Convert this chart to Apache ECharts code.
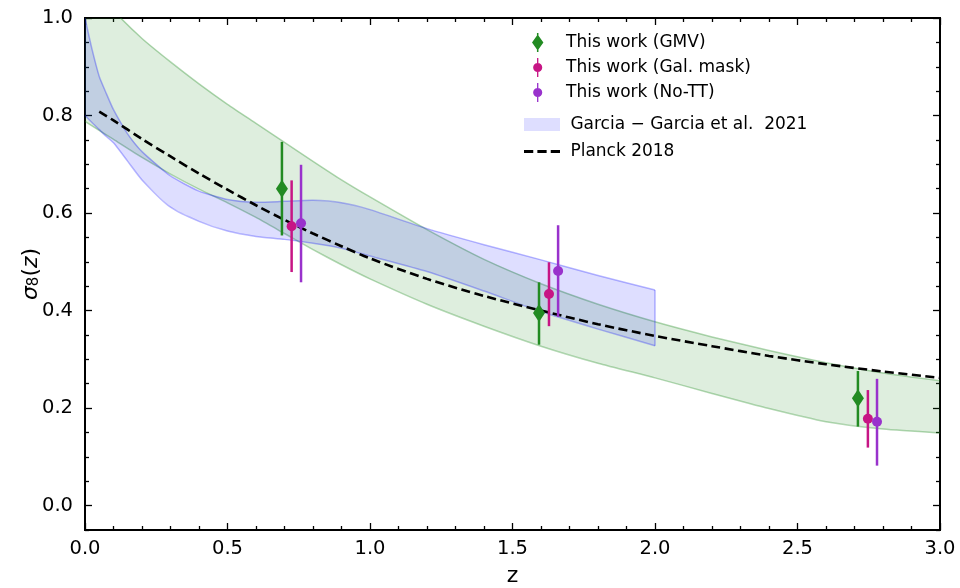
<!DOCTYPE html>
<html>
<head>
<meta charset="utf-8">
<script src="https://cdn.jsdelivr.net/npm/echarts@6/dist/echarts.min.js"></script>
<style>
  html, body { margin: 0; padding: 0; background: #fff; }
  #chart { width: 960px; height: 588px; }
</style>
</head>
<body>
<div id="chart"></div>
<script>
// tick labels
var xTicks = [0, 0.5, 1.0, 1.5, 2.0, 2.5, 3.0];
var xMinorTicks = [0.1, 0.2, 0.3, 0.4, 0.6, 0.7, 0.8, 0.9, 1.1, 1.2, 1.3, 1.4, 1.6, 1.7, 1.8, 1.9, 2.1, 2.2, 2.3, 2.4, 2.6, 2.7, 2.8, 2.9];
var yTicks = [0, 0.2, 0.4, 0.6, 0.8, 1.0];
var yMinorTicks = [-0.05, 0.05, 0.1, 0.15, 0.25, 0.3, 0.35, 0.45, 0.5, 0.55, 0.65, 0.7, 0.75, 0.85, 0.9, 0.95];

// green band (theory range)
var zBand = [0, 0.1, 0.2, 0.3, 0.4, 0.5, 0.6, 0.7, 0.8, 0.9, 1.0, 1.2, 1.4, 1.6, 1.8, 2.0, 2.2, 2.4, 2.6, 2.8, 3.0];
var bandUpper = [1.08, 1.015, 0.958, 0.91, 0.865, 0.823, 0.784, 0.745, 0.706, 0.668, 0.633, 0.566, 0.505, 0.455, 0.413, 0.377, 0.346, 0.318, 0.293, 0.272, 0.256];
var bandLower = [0.788, 0.751, 0.714, 0.68, 0.649, 0.621, 0.591, 0.558, 0.525, 0.494, 0.465, 0.413, 0.368, 0.327, 0.292, 0.262, 0.23, 0.199, 0.172, 0.157, 0.149];

// Garcia-Garcia et al. 2021
var zGarcia = [0, 0.025, 0.05, 0.075, 0.1, 0.15, 0.2, 0.3, 0.4, 0.5, 0.6, 0.7, 0.8, 0.9, 1.0, 1.2, 1.4, 1.6, 1.8, 2.0];
var garciaUpper = [1.0, 0.935, 0.88, 0.845, 0.812, 0.762, 0.726, 0.676, 0.645, 0.628, 0.622, 0.624, 0.626, 0.621, 0.607, 0.568, 0.535, 0.504, 0.472, 0.442];
var garciaLower = [0.8, 0.785, 0.771, 0.757, 0.744, 0.706, 0.668, 0.612, 0.583, 0.563, 0.552, 0.546, 0.538, 0.528, 0.512, 0.48, 0.44, 0.398, 0.362, 0.328];

// Planck 2018
var zPlanck = [0.05, 0.1, 0.2, 0.3, 0.4, 0.5, 0.6, 0.7, 0.8, 0.9, 1.0, 1.2, 1.4, 1.6, 1.8, 2.0, 2.2, 2.4, 2.6, 2.8, 3.0];
var s8Planck = [0.808, 0.79, 0.752, 0.716, 0.681, 0.648, 0.616, 0.586, 0.558, 0.532, 0.507, 0.465, 0.43, 0.4, 0.372, 0.348, 0.327, 0.307, 0.29, 0.275, 0.262];

// measurements
var zGMV = [0.691, 1.593, 2.712];
var s8GMV = [0.65, 0.395, 0.22];
var loGMV = [0.554, 0.33, 0.162];
var hiGMV = [0.746, 0.458, 0.276];

var zGal = [0.725, 1.628, 2.747];
var s8Gal = [0.573, 0.434, 0.178];
var loGal = [0.479, 0.368, 0.119];
var hiGal = [0.667, 0.499, 0.237];

var zNoTT = [0.758, 1.66, 2.779];
var s8NoTT = [0.579, 0.481, 0.172];
var loNoTT = [0.458, 0.387, 0.082];
var hiNoTT = [0.699, 0.575, 0.26];

var cGMV = "#228b22";
var cGal = "#c71585";
var cNoTT = "#9932cc";
var font = "DejaVu Sans";

function pairs(xs, ys) {
  return xs.map(function (x, i) { return [x, ys[i]]; });
}
function bars(xs, ys, lo, hi) {
  return xs.map(function (x, i) { return [x, ys[i], lo[i], hi[i]]; });
}

// filled region between two curves: one item per z, drawn once as a polygon
function band(name, xs, up, lo, fill, edge, z) {
  return {
    name: name,
    type: "custom",
    clip: true,
    silent: true,
    z: z,
    itemStyle: { color: fill },
    data: xs.map(function (x, i) { return [x, lo[i], up[i]]; }),
    encode: { x: 0, y: [1, 2] },
    renderItem: function (params, api) {
      if (params.dataIndex !== 0) return;
      var top = [], bottom = [];
      for (var i = 0; i < xs.length; i++) {
        top.push(api.coord([xs[i], up[i]]));
        bottom.push(api.coord([xs[i], lo[i]]));
      }
      var poly = top.concat(bottom.slice().reverse());
      return {
        type: "group",
        children: [
          { type: "polygon", shape: { points: poly }, style: { fill: fill, stroke: null } },
          { type: "polyline", shape: { points: top, smooth: 0.2 }, style: { fill: null, stroke: edge, lineWidth: 1.5 } },
          { type: "polyline", shape: { points: bottom, smooth: 0.2 }, style: { fill: null, stroke: edge, lineWidth: 1.5 } }
        ]
      };
    }
  };
}

function errorBar(name, color, data) {
  return {
    name: name,
    type: "custom",
    data: data,
    encode: { x: 0, y: [2, 3] },
    z: 5,
    renderItem: function (params, api) {
      var p1 = api.coord([api.value(0), api.value(2)]);
      var p2 = api.coord([api.value(0), api.value(3)]);
      return {
        type: "line",
        shape: { x1: p1[0], y1: p1[1], x2: p2[0], y2: p2[1] },
        style: { stroke: color, lineWidth: 2.5 }
      };
    }
  };
}

// x axes: bottom/top, major/minor
function xAxisCfg(pos, vals, len, labels) {
  return {
    type: "value", min: 0, max: 3, position: pos,
    name: labels ? "z" : "",
    nameLocation: "middle", nameGap: 35,
    nameTextStyle: { fontFamily: font, fontSize: 22, color: "#000" },
    axisLine: { show: true, onZero: false, lineStyle: { color: "#000", width: 2 } },
    axisTick: { show: true, inside: true, length: len, customValues: vals, lineStyle: { color: "#000", width: 1.3 } },
    axisLabel: { show: labels, customValues: xTicks, margin: 9, fontFamily: font, fontSize: 19.5, color: "#000",
      formatter: function (v) { return v.toFixed(1); } },
    splitLine: { show: false }
  };
}
function yAxisCfg(pos, vals, len, labels) {
  return {
    type: "value", min: -0.05, max: 1.0, position: pos,
    name: labels ? "{s|σ}{sub|8}{n|(}{s|z}{n|)}" : "",
    nameLocation: "middle", nameGap: 43, nameRotate: 90, nameMoveOverlap: false,
    nameTextStyle: {
      color: "#000",
      rich: {
        s: { fontFamily: font, fontStyle: "italic", fontSize: 22, color: "#000", verticalAlign: "bottom", lineHeight: 30 },
        n: { fontFamily: font, fontSize: 22, color: "#000", verticalAlign: "bottom", lineHeight: 30 },
        sub: { fontFamily: font, fontSize: 15, color: "#000", verticalAlign: "bottom", lineHeight: 22 }
      }
    },
    axisLine: { show: true, onZero: false, lineStyle: { color: "#000", width: 2 } },
    axisTick: { show: true, inside: true, length: len, customValues: vals, lineStyle: { color: "#000", width: 1.3 } },
    axisLabel: { show: labels, customValues: yTicks, margin: 12, fontFamily: font, fontSize: 19.5, color: "#000",
      formatter: function (v) { return v.toFixed(1); } },
    splitLine: { show: false }
  };
}

var barIconDiamond = "path://M5.2,0H6.8V20H5.2Z M6,1.5L12,10L6,18.5L0,10Z";
var barIconCircle = "path://M5.3,0H6.7V20H5.3Z M1.2,10A4.8,4.8 0 1 1 10.8,10A4.8,4.8 0 1 1 1.2,10Z";
var dashIcon = "path://M0,0H9V3H0Z M13,0H22V3H13Z M26,0H35V3H26Z";

var legendText = { fontFamily: font, fontSize: 17, color: "#000" };
function legendLabel(name) { return "\u00a0" + name; }

var myChart = echarts.init(document.getElementById("chart"));
var option = {
  animation: false,
  backgroundColor: "#fff",
  grid: { left: 85, right: 20, top: 18, bottom: 58, containLabel: false, outerBoundsMode: "none" },
  xAxis: [
    xAxisCfg("bottom", xTicks, 7, true),
    xAxisCfg("bottom", xMinorTicks, 4, false),
    xAxisCfg("top", xTicks, 7, false),
    xAxisCfg("top", xMinorTicks, 4, false)
  ],
  yAxis: [
    yAxisCfg("left", yTicks, 7, true),
    yAxisCfg("left", yMinorTicks, 4, false),
    yAxisCfg("right", yTicks, 7, false),
    yAxisCfg("right", yMinorTicks, 4, false)
  ],
  legend: [{
    // the narrow error-bar icons sit ~12px inside their 36px slot
    orient: "vertical", left: 527, top: 28,
    itemWidth: 36, itemHeight: 19, itemGap: 6,
    textStyle: legendText, formatter: legendLabel,
    data: [
      { name: "This work (GMV)", icon: barIconDiamond, itemStyle: { color: cGMV } },
      { name: "This work (Gal. mask)", icon: barIconCircle, itemStyle: { color: cGal } },
      { name: "This work (No-TT)", icon: barIconCircle, itemStyle: { color: cNoTT } }
    ]
  }, {
    orient: "vertical", left: 519, top: 111,
    itemWidth: 36, itemHeight: 13, itemGap: 10,
    textStyle: legendText, formatter: legendLabel,
    data: [
      { name: "Garcia − Garcia et al.  2021", icon: "rect", itemStyle: { color: "rgba(0,0,255,0.13)", borderWidth: 0 } },
      { name: "Planck 2018", icon: dashIcon, itemStyle: { color: "#000" } }
    ]
  }],
  series: [
    band("", zBand, bandUpper, bandLower, "rgba(34,139,34,0.15)", "rgba(34,139,34,0.35)", 1),
    band("Garcia − Garcia et al.  2021", zGarcia, garciaUpper, garciaLower, "rgba(0,0,255,0.13)", "rgba(0,0,255,0.28)", 2),
    {
      type: "line", symbol: "none", z: 2, silent: true,
      data: [[zGarcia[zGarcia.length - 1], garciaLower[garciaLower.length - 1]],
             [zGarcia[zGarcia.length - 1], garciaUpper[garciaUpper.length - 1]]],
      lineStyle: { color: "rgba(0,0,255,0.28)", width: 1.5 }
    },
    {
      name: "Planck 2018",
      type: "line", data: pairs(zPlanck, s8Planck), symbol: "none", smooth: 0.3, z: 3,
      itemStyle: { color: "#000" },
      lineStyle: { color: "#000", width: 2.6, type: [9, 4.5] }
    },
    errorBar("This work (GMV)", cGMV, bars(zGMV, s8GMV, loGMV, hiGMV)),
    errorBar("This work (Gal. mask)", cGal, bars(zGal, s8Gal, loGal, hiGal)),
    errorBar("This work (No-TT)", cNoTT, bars(zNoTT, s8NoTT, loNoTT, hiNoTT)),
    {
      name: "This work (GMV)", type: "scatter", data: pairs(zGMV, s8GMV),
      symbol: "diamond", symbolSize: [12, 18], itemStyle: { color: cGMV, opacity: 1 }, z: 6
    },
    {
      name: "This work (Gal. mask)", type: "scatter", data: pairs(zGal, s8Gal),
      symbol: "circle", symbolSize: 10, itemStyle: { color: cGal, opacity: 1 }, z: 6
    },
    {
      name: "This work (No-TT)", type: "scatter", data: pairs(zNoTT, s8NoTT),
      symbol: "circle", symbolSize: 10, itemStyle: { color: cNoTT, opacity: 1 }, z: 6
    }
  ]
};

myChart.setOption(option);
window.addEventListener("resize", function () {
  myChart.resize();
});
</script>
</body>
</html>
